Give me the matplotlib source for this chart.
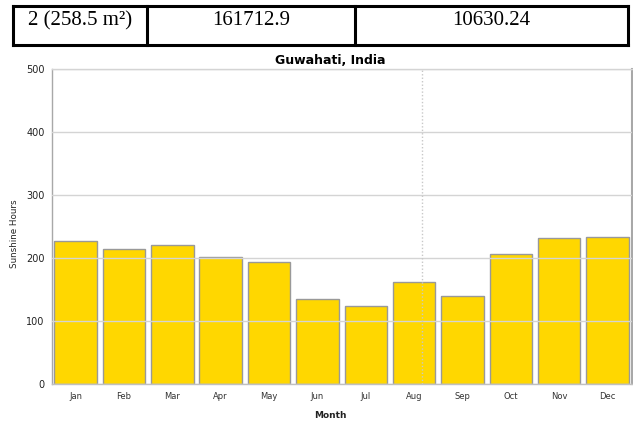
import matplotlib
matplotlib.use("Agg")
import matplotlib.pyplot as plt
from matplotlib.lines import Line2D

# ---- data ----
months = ["Jan", "Feb", "Mar", "Apr", "May", "Jun", "Jul", "Aug", "Sep", "Oct", "Nov", "Dec"]
sunshine = [227, 215, 221, 201, 193, 134, 124, 162, 139, 206, 232, 233]
yticks = [0, 100, 200, 300, 400, 500]
table_cells = ["2 (258.5 m\u00b2)", "161712.9", "10630.24"]
crosshair_x = 7.16

W, H = 633, 423
fig = plt.figure(figsize=(W / 100, H / 100), dpi=100)

def fx(px):
    return px / W

def fy(py):
    return 1 - py / H

# ---- table row at top ----
tl, tr, tt, tb = 12.5, 628, 5.7, 45
dividers = [147, 355]
lw = 2.2
for (x0, y0, x1, y1) in [(tl, tt, tr, tt), (tl, tb, tr, tb), (tl, tt, tl, tb), (tr, tt, tr, tb)] + \
        [(d, tt, d, tb) for d in dividers]:
    fig.add_artist(Line2D([fx(x0), fx(x1)], [fy(y0), fy(y1)], color="black", lw=lw,
                          solid_capstyle="projecting", transform=fig.transFigure))
edges = [tl] + dividers + [tr]
for i, txt in enumerate(table_cells):
    cx = (edges[i] + edges[i + 1]) / 2
    fig.text(fx(cx), fy(25), txt, ha="center", va="baseline",
             family="Liberation Serif", fontsize=15, color="black")

# ---- chart ----
ax_l, ax_r, ax_t, ax_b = 51.5, 631.7, 69.3, 383.7
ax = fig.add_axes([fx(ax_l), fy(ax_b), (ax_r - ax_l) / W, (ax_b - ax_t) / H])
x = list(range(len(months)))
ax.bar(x, sunshine, width=0.88, color="#FFD700", edgecolor="#999999", linewidth=1.0, zorder=1)
ax.set_xlim(-0.5, len(months) - 0.5)
ax.set_ylim(0, 500)
ax.set_yticks(yticks)
ax.set_yticklabels([str(v) for v in yticks], fontsize=7, color="#222222")
ax.set_xticks(x)
ax.set_xticklabels(months, fontsize=6, color="#333333")
ax.tick_params(axis="y", length=0, pad=5)
ax.tick_params(axis="x", length=0, pad=6)
ax.set_axisbelow(False)
ax.yaxis.grid(True, color="#d4d4d4", linewidth=1.0, zorder=3)
ax.axvline(crosshair_x, color="#c8c8c8", linestyle=(0, (1, 1.5)), linewidth=1.0, zorder=3)

ax.spines["left"].set_color("#a8a8a8")
ax.spines["bottom"].set_color("#c0c0c0")
ax.spines["top"].set_color("#d4d4d4")
ax.spines["right"].set_color("#a8a8a8")
ax.spines["right"].set_linewidth(1.5)
for s in ["left", "bottom", "top"]:
    ax.spines[s].set_linewidth(1.0)

fig.text(fx(330), fy(60), "Guwahati, India", ha="center", va="center",
         fontsize=9, fontweight="bold", color="black")
fig.text(fx(330.5), fy(415), "Month", ha="center", va="center",
         fontsize=6.5, fontweight="bold", color="#222222")
fig.text(fx(15), fy(234), "Sunshine Hours", ha="center", va="center", rotation=90,
         fontsize=6.3, color="#222222")

fig.savefig("out.png", dpi=100)
